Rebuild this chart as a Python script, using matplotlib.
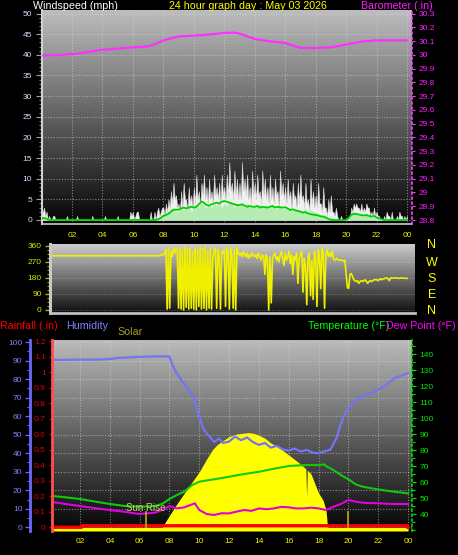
import numpy as np
import matplotlib
matplotlib.use('Agg')
import matplotlib.pyplot as plt
from matplotlib.ticker import MultipleLocator, FixedLocator, FuncFormatter, NullLocator

plt.rcParams['font.family'] = ['Liberation Sans', 'DejaVu Sans']

# ---------------- data ----------------
hour_ticks = [2, 4, 6, 8, 10, 12, 14, 16, 18, 20, 22, 24]
hour_labels = ['02', '04', '06', '08', '10', '12', '14', '16', '18', '20', '22', '00']

# wind gust (5-minute samples, mph)
gust_t = np.arange(289) / 12.0
gust = [1, 2, 3, 1, 2, 0, 1, 0, 0, 1, 1, 0,
        0, 0, 0, 0, 0, 0, 0, 0, 1, 0, 0, 0,
        0, 0, 0, 0, 1, 0, 0, 0, 0, 0, 0, 0,
        0, 0, 0, 0, 1, 0, 0, 0, 0, 0, 0, 0,
        0, 0, 1, 0, 0, 0, 0, 0, 0, 0, 0, 0,
        1, 0, 0, 0, 0, 0, 0, 0, 0, 0, 2, 1,
        2, 0, 1, 2, 2, 0, 0, 0, 0, 0, 0, 0,
        0, 0, 2, 0, 0, 2, 0, 2, 3, 1, 2, 3,
        3, 1, 4, 2, 5, 3, 7, 4, 9, 5, 6, 3,
        4, 2, 7, 3, 9, 5, 5, 2, 8, 4, 6, 3,
        8, 4, 11, 5, 7, 3, 9, 6, 11, 5, 8, 4,
        10, 5, 7, 4, 11, 6, 8, 5, 9, 4, 11, 6,
        8, 5, 11, 6, 14, 7, 9, 5, 12, 6, 10, 5,
        9, 5, 14, 7, 10, 6, 11, 5, 8, 4, 12, 6,
        9, 5, 11, 6, 7, 4, 12, 6, 10, 5, 8, 4,
        11, 5, 8, 4, 10, 6, 7, 3, 12, 6, 9, 5,
        8, 4, 10, 5, 7, 3, 9, 5, 6, 3, 9, 4,
        11, 5, 6, 3, 9, 4, 5, 2, 10, 4, 7, 3,
        6, 3, 9, 4, 4, 2, 8, 3, 3, 1, 5, 2,
        6, 2, 2, 1, 3, 1, 0, 0, 1, 0, 0, 0,
        0, 0, 0, 0, 3, 2, 4, 3, 4, 3, 3, 2,
        4, 2, 3, 2, 4, 3, 3, 1, 2, 1, 3, 1,
        2, 1, 1, 0, 0, 0, 1, 0, 2, 1, 1, 0,
        2, 0, 0, 0, 1, 0, 2, 1, 1, 0, 1, 0,
        1]

# average wind (10-minute samples, mph)
wind_t = np.arange(145) / 6.0
avg_speed = [0.5, 1, 0.5, 0, 0, 0,
             0, 0, 0, 0, 0, 0,
             0, 0, 0, 0, 0, 0,
             0, 0, 0, 0, 0, 0,
             0, 0, 0, 0, 0, 0,
             0, 0, 0, 0, 0, 0,
             0, 0, 0, 0, 0, 0,
             0, 0, 0, 0, 0.5, 1,
             1, 1.5, 2, 3, 2.5, 2,
             2, 3, 2.5, 3, 3.5, 2,
             3, 4, 3, 4.5, 3.5, 3,
             4, 3, 4, 3.5, 4.5, 3,
             4, 3.5, 4.5, 4, 3, 4,
             3.5, 4, 3, 4, 3.5, 3,
             3.5, 3, 4, 3, 3.5, 3,
             3, 3.5, 2.5, 3, 3.5, 2.5,
             3, 2.5, 3, 2, 3, 2.5,
             2.5, 2, 3, 1.5, 2.5, 2,
             2, 1.5, 1, 1.5, 1, 0.5,
             1, 0.5, 0, 0, 0, 0,
             0, 0.5, 1.5, 2, 1.5, 1.5,
             1.5, 1, 1.5, 1, 0.5, 1,
             1, 0.5, 0, 0.5, 0, 0,
             0.5, 0, 0, 0.5, 0, 0,
             0]
avg_line = [0.3, 0.5, 0.3, 0, 0, 0,
            0, 0, 0, 0, 0, 0,
            0, 0, 0, 0, 0, 0,
            0, 0, 0, 0, 0, 0,
            0, 0, 0, 0, 0, 0,
            0, 0, 0, 0, 0, 0,
            0, 0, 0, 0, 0, 0,
            0, 0, 0, 0, 0.2, 0.5,
            1, 1.2, 1.5, 2, 2.5, 2.5,
            2.5, 2.8, 3, 2.8, 3, 3.2,
            3, 3.2, 3.8, 4.5, 4.2, 3.6,
            3.5, 3.8, 4, 4.2, 4, 4.4,
            4.6, 4.4, 4.2, 4, 3.8, 3.6,
            3.6, 3.8, 3.5, 3.2, 3.4, 3.2,
            3.2, 3.4, 3, 3.2, 3.1, 3,
            3.2, 3.4, 3, 3.2, 3.1, 3,
            3.1, 2.8, 2.4, 2.6, 2.3, 2.2,
            2, 1.8, 1.9, 1.6, 1.4, 1.3,
            1.2, 1.1, 0.9, 0.8, 0.6, 0.3,
            0, 0, 0, 0, 0, 0,
            0, 0.5, 1.2, 1.5, 1.5, 1.3,
            1.2, 1.1, 1.2, 1, 0.8, 1,
            0.6, 0.4, 0.2, 0, 0, 0,
            0, 0, 0, 0, 0, 0,
            0]

# barometer (inHg)
baro_t = [0, 1, 2.2, 3, 4, 5, 6, 7, 7.5, 8, 9, 10, 11, 12, 12.7, 13, 14, 15, 16, 17, 18, 19, 20, 21, 22, 23, 24]
baro_v = [29.995, 29.998, 30.006, 30.02, 30.037, 30.045, 30.054, 30.061, 30.08, 30.105, 30.134, 30.139,
          30.147, 30.159, 30.161, 30.154, 30.115, 30.098, 30.086, 30.05, 30.05, 30.054, 30.074, 30.096,
          30.105, 30.105, 30.105]

# wind direction (5-minute samples, degrees)
dir_t = np.arange(289) / 12.0
wind_dir = ([330, 330, 325, 305, 305, 305, 305, 305, 305, 305, 305, 305] +
            [305, 305, 305, 305, 305, 305, 305, 305, 305, 305, 305, 305] +
            [305, 305, 305, 305, 305, 305, 305, 305, 305, 305, 305, 305] +
            [305, 305, 305, 305, 305, 305, 305, 305, 305, 305, 305, 305] +
            [305, 305, 305, 305, 305, 305, 305, 305, 305, 305, 305, 305] +
            [305, 305, 305, 305, 305, 305, 305, 305, 305, 305, 305, 305] +
            [305, 305, 305, 305, 305, 305, 305, 305, 305, 305, 305, 305] +
            [305, 305, 305, 305, 305, 305, 305, 305, 305, 305, 308, 312] +
            [310, 320, 340, 5, 350, 10, 330, 300, 345, 320, 350, 330] +
            [10, 350, 5, 340, 0, 355, 15, 345, 5, 350, 10, 330] +
            [5, 350, 0, 340, 20, 355, 5, 345, 10, 350, 0, 335] +
            [10, 345, 5, 300, 330, 350, 10, 340, 300, 5, 330, 320] +
            [340, 20, 350, 330, 5, 345, 310, 10, 340, 0, 350, 320] +
            [310, 320, 300, 330, 310, 300, 320, 290, 310, 300, 320, 305] +
            [300, 310, 290, 320, 300, 280, 310, 300, 200, 310, 290, 0] +
            [300, 40, 290, 310, 320, 280, 300, 270, 310, 330, 290, 250] +
            [320, 280, 300, 330, 260, 310, 200, 300, 280, 320, 150, 290] +
            [310, 330, 100, 290, 250, 30, 300, 320, 80, 280, 60, 330] +
            [290, 20, 340, 300, 120, 350, 320, 10, 310, 340, 300, 320] +
            [300, 330, 290, 280, 285, 290, 280, 280, 280, 280, 275, 280] +
            [200, 125, 122, 200, 205, 190, 170, 165, 160, 165, 150, 160] +
            [165, 160, 165, 170, 160, 150, 160, 165, 160, 165, 170, 170] +
            [170, 165, 170, 175, 170, 175, 175, 180, 180, 175, 165, 180] +
            [180, 180, 180, 180, 180, 178, 178, 180, 180, 180, 178, 178] +
            [178])

# humidity (%)
hum_t = [0, 1, 2, 3, 4, 4.5, 5, 6, 7, 7.5, 8.0, 8.25, 8.5, 8.8, 9.2, 9.6, 10.0, 10.25, 10.6, 11.0,
         11.3, 11.6, 12.0, 12.4, 12.8, 13.2, 13.6, 14.0, 14.4, 14.8, 15.2, 15.6, 16.0, 16.4, 16.8,
         17.2, 17.6, 18.0, 18.4, 18.8, 19.2, 19.4, 19.6, 19.9, 20.5, 21.3, 22.4, 23.1, 24.0]
hum_v = [90.4, 90.4, 90.5, 90.5, 90.8, 91.4, 91.6, 92.0, 92.2, 92.3, 92.2, 86.7, 83, 79.5, 75, 70.5,
         59.7, 53.4, 49.8, 46, 48, 45.5, 46.3, 49, 47, 48.5, 46, 44.5, 45.5, 43, 44, 42, 41.4, 42.5,
         40.9, 41.8, 40.3, 40, 41, 42, 48, 53.5, 58, 63.4, 68.8, 71.5, 76, 80.5, 83.2]

# temperature and dew point (F)
temp_t = [0, 1, 2, 3, 4, 5, 6, 7, 7.5, 8, 8.5, 9, 9.5, 10, 10.5, 11, 12, 13, 14, 15, 16, 17, 18,
          18.4, 18.5, 19, 19.5, 20, 20.5, 21, 22, 23, 23.5, 24]
temp_v = [51.4, 50.5, 49.4, 47.8, 46.3, 45, 44.6, 45, 46.3, 49.4, 51.9, 54, 58, 60.2, 61, 61.7,
          63.3, 65, 66.4, 68.3, 70, 70.6, 70.6, 71, 70, 67.5, 64.4, 61.7, 58.5, 57, 55.4, 54, 53.5,
          52.9]
dew_t = [0, 1, 2, 3, 4, 5, 6, 7, 7.5, 8, 8.5, 9, 9.7, 10, 10.5, 11, 11.5, 12, 12.5, 13, 13.5, 14,
         14.5, 15, 15.5, 16, 16.5, 17, 17.5, 18, 18.5, 19, 19.5, 20, 20.5, 21, 22, 23, 24]
dew_v = [47.7, 46.3, 45, 43.7, 42.5, 41.4, 40, 40.8, 42.5, 45, 43.5, 44.2, 46.7, 42.5, 40, 39.4,
         40.5, 40.4, 41.5, 42.5, 42, 43.5, 43, 43.5, 44.5, 44.2, 43.5, 43.5, 44, 43.5, 42.5, 44.6,
         46.3, 48.8, 47.7, 47, 46.7, 46.3, 46.3]

# solar (W/m2)
sol_t = [0, 7.5, 8.0, 8.4, 9.0, 9.5, 10.0, 10.5, 10.9, 11.2, 11.6, 12.0, 12.5, 13.0, 13.3, 13.7,
         14.0, 14.4, 14.8, 15.3, 16.0, 16.7, 17.15, 17.2, 17.25, 17.5, 18.0, 18.3, 18.5, 18.6,
         18.7, 24]
sol_v = [0, 0, 100, 180, 290, 380, 470, 580, 660, 700, 735, 768, 790, 798, 802, 795, 780, 755,
         714, 680, 613, 545, 495, 257, 485, 450, 291, 230, 147, 5, 0, 0]

# rainfall (in)
rain_t = [0, 2.1, 2.1, 23.98, 24]
rain_v = [0, 0, 0.01, 0.01, 0]

sunrise_h = 6.4
sunset_h = 20.0

# ---------------- layout helpers ----------------
W, H = 458, 555
fig = plt.figure(figsize=(W / 100, H / 100), dpi=100, facecolor='black')


def rect(x0, y0, x1, y1):
    return [x0 / W, 1 - y1 / H, (x1 - x0) / W, (y1 - y0) / H]


def gradient(ax, top, bottom):
    g = np.linspace(top, bottom, 256).reshape(-1, 1)
    ax.imshow(g, cmap='gray', vmin=0, vmax=1, aspect='auto', extent=[0, 1, 0, 1],
              transform=ax.transAxes, zorder=0, interpolation='bilinear')


def fmt1(v, pos):
    s = f"{v:.1f}"
    return s[:-2] if s.endswith('.0') else s


def hide_spines(ax, keep=()):
    for k, sp in ax.spines.items():
        sp.set_visible(k in keep)


GRID = dict(color='#d8d8d8', linestyle=(0, (1, 1.5)), linewidth=0.8, alpha=0.55)
TICKFS = 6

# ---------------- top panel: wind + barometer ----------------
ax_w = fig.add_axes(rect(42, 10, 412, 224))
gradient(ax_w, 0.74, 0.02)
ax_w.set_axisbelow(True)
ax_w.fill_between(gust_t, 0, gust, color='#f0f0f0', lw=0.4, edgecolor='#d8d8d8', zorder=1)
ax_w.fill_between(wind_t, 0, avg_speed, color='#b4ecb4', lw=0, zorder=2)
ax_w.plot(wind_t, avg_line, color='#00d000', lw=1.3, zorder=3)
ax_w.set_xlim(0.03, 24.33)
ax_w.set_ylim(-0.97, 50.85)
ax_w.xaxis.set_major_locator(FixedLocator(hour_ticks))
ax_w.set_xticklabels(hour_labels)
ax_w.tick_params(axis='x', length=0, pad=5.6, labelsize=TICKFS, labelcolor='#f0f000')
ax_w.yaxis.set_major_locator(MultipleLocator(5))
ax_w.yaxis.set_minor_locator(MultipleLocator(1))
ax_w.tick_params(axis='y', which='major', length=4, width=0.8, color='#a0a0a0', pad=3,
                 labelsize=TICKFS, labelcolor='#d4dcff')
ax_w.tick_params(axis='y', which='minor', length=2, width=0.6, color='#909090')
ax_w.grid(True, which='major', **GRID)
hide_spines(ax_w, ('left', 'bottom'))
ax_w.spines['left'].set_color('#d0d0d0')
ax_w.spines['left'].set_linewidth(1.5)
ax_w.spines['bottom'].set_color('#c8c8c8')
ax_w.spines['bottom'].set_linewidth(1.2)

ax_bar = ax_w.twinx()
ax_bar.plot(baro_t, baro_v, color='#ff30ff', lw=1.6)
ax_bar.set_ylim(28.771, 30.3255)
ax_bar.yaxis.set_major_locator(MultipleLocator(0.1))
ax_bar.yaxis.set_major_formatter(FuncFormatter(fmt1))
ax_bar.tick_params(axis='y', length=2.5, width=0.8, color='#ff40ff', pad=2.5,
                   labelsize=TICKFS, labelcolor='#ff20ff')
hide_spines(ax_bar, ('right',))
ax_bar.spines['right'].set_color('#ff40ff')
ax_bar.spines['right'].set_linestyle((0, (1, 2)))
ax_bar.spines['right'].set_linewidth(1.2)

# ---------------- wind direction panel ----------------
ax_d = fig.add_axes(rect(50, 244, 415, 313))
gradient(ax_d, 0.80, 0.06)
ax_d.set_axisbelow(True)
ax_d.plot(dir_t, wind_dir, color='#f0f000', lw=1.2, zorder=2)
ax_d.set_xlim(0.56, 24.52)
ax_d.set_ylim(-17, 371)
ax_d.xaxis.set_major_locator(NullLocator())
ax_d.yaxis.set_major_locator(FixedLocator([0, 90, 180, 270, 360]))
ax_d.yaxis.set_minor_locator(MultipleLocator(22.5))
ax_d.tick_params(axis='y', which='major', length=3.5, width=1.0, color='#b0b000', pad=2.5,
                 labelsize=TICKFS, labelcolor='#d8e800')
ax_d.tick_params(axis='y', which='minor', length=2, width=0.8, color='#a0a000')
ax_d.grid(True, axis='y', which='major', color='#e0e0e0', linestyle=(0, (1, 1.5)), linewidth=0.7,
          alpha=0.35)
hide_spines(ax_d, ('left', 'bottom'))
ax_d.spines['left'].set_color('#c8c8c8')
ax_d.spines['left'].set_linewidth(2.2)
ax_d.spines['bottom'].set_color('#c0c0c0')
ax_d.spines['bottom'].set_linewidth(2.0)

for lab, py in zip(['N', 'W', 'S', 'E', 'N'], [245, 263, 279, 295, 311]):
    fig.text(432 / W, 1 - py / H, lab, color='#ffff00', fontsize=9, ha='center', va='center')

# ---------------- bottom panel ----------------
HUM_LIM = (-2.0, 101.1)
SOL_LIM = (-31.4, 1587)
TEMP_LIM = (29.4, 148.75)
RAIN_LIM = (-0.0239, 1.208)

ax_h = fig.add_axes(rect(52, 340, 412, 531))
gradient(ax_h, 0.73, 0.02)
ax_h.set_axisbelow(True)
ax_h.set_xlim(0.12, 24.27)
ax_h.set_ylim(*HUM_LIM)
ax_h.xaxis.set_major_locator(FixedLocator(hour_ticks))
ax_h.set_xticklabels(hour_labels)
ax_h.tick_params(axis='x', length=0, pad=5.2, labelsize=TICKFS, labelcolor='#f0f000')
ax_h.yaxis.set_major_locator(MultipleLocator(10))
ax_h.yaxis.set_minor_locator(MultipleLocator(5))
ax_h.set_yticks(list(range(0, 101, 10)))
ax_h.tick_params(axis='y', which='major', length=3.5, width=0.9, color='#6a6aff', pad=2,
                 labelsize=TICKFS, labelcolor='#8080ff')
ax_h.tick_params(axis='y', which='minor', length=2, width=0.8, color='#6a6aff')
ax_h.grid(True, which='major', **GRID)
hide_spines(ax_h, ('left',))
ax_h.spines['left'].set_position(('outward', 15.8))
ax_h.spines['left'].set_color('#6a6aff')
ax_h.spines['left'].set_linewidth(2.0)

ax_s = ax_h.twinx()
ax_s.fill_between(sol_t, SOL_LIM[0], sol_v, color='#ffff00', lw=0)
ax_s.set_ylim(*SOL_LIM)
ax_s.set_yticks([])
hide_spines(ax_s)

ax_hl = ax_h.twinx()
ax_hl.plot(hum_t, hum_v, color='#7474f4', lw=1.6)
ax_hl.set_ylim(*HUM_LIM)
ax_hl.set_yticks([])
hide_spines(ax_hl)

ax_t = ax_h.twinx()
ax_t.plot(temp_t, temp_v, color='#10c810', lw=1.5)
ax_t.plot(dew_t, dew_v, color='#e000e0', lw=1.5)
ax_t.set_ylim(*TEMP_LIM)
ax_t.set_yticks(list(range(40, 141, 10)))
ax_t.yaxis.set_minor_locator(MultipleLocator(5))
ax_t.tick_params(axis='y', which='major', length=3, width=0.9, color='#00e000', pad=2.5,
                 labelsize=TICKFS, labelcolor='#00e800')
ax_t.tick_params(axis='y', which='minor', length=1.8, width=0.8, color='#00e000')
hide_spines(ax_t, ('right',))
ax_t.spines['right'].set_color('#00e000')
ax_t.spines['right'].set_linestyle((0, (1, 2)))
ax_t.spines['right'].set_linewidth(1.2)

ax_r = ax_h.twinx()
ax_r.plot(rain_t, rain_v, color='#ff0000', lw=2.4)
ax_r.plot([sunrise_h, sunrise_h], [0, 0.1], color='#b8a820', lw=1.2)
ax_r.plot([sunset_h, sunset_h], [0, 0.1], color='#b8a820', lw=1.2)
ax_r.text(sunrise_h, 0.125, 'Sun Rise', color='#d8d070', fontsize=7, ha='center', va='center')
ax_r.set_ylim(*RAIN_LIM)
ax_r.yaxis.tick_left()
ax_r.yaxis.set_major_locator(MultipleLocator(0.1))
ax_r.yaxis.set_minor_locator(MultipleLocator(0.05))
ax_r.yaxis.set_major_formatter(FuncFormatter(fmt1))
ax_r.tick_params(axis='y', which='major', length=2.5, width=0.9, color='#e00000', pad=2,
                 labelsize=TICKFS, labelcolor='#e00000')
ax_r.tick_params(axis='y', which='minor', length=1.5, width=0.8, color='#e00000')
hide_spines(ax_r, ('left',))
ax_r.spines['left'].set_color('#ff5050')
ax_r.spines['left'].set_linestyle((0, (1.5, 1)))
ax_r.spines['left'].set_linewidth(2.0)

# ---------------- titles ----------------
TFS = 7.7
fig.text(33 / W, 1 - 6 / H, 'Windspeed (mph)', color='white', fontsize=TFS, ha='left', va='center')
fig.text(247.5 / W, 1 - 6 / H, '24 hour graph day : May 03 2026', color='#ffff00', fontsize=TFS,
         ha='center', va='center')
fig.text(433 / W, 1 - 6 / H, 'Barometer (.in)', color='#ff20ff', fontsize=TFS, ha='right', va='center')
fig.text(0 / W, 1 - 326 / H, 'Rainfall (.in)', color='#ff0000', fontsize=TFS, ha='left', va='center')
fig.text(66 / W, 1 - 326 / H, 'Humidity', color='#8080ff', fontsize=TFS, ha='left', va='center')
fig.text(117 / W, 1 - 332 / H, 'Solar', color='#a0a020', fontsize=TFS, ha='left', va='center')
fig.text(308 / W, 1 - 326 / H, 'Temperature (°F)', color='#00ff00', fontsize=TFS, ha='left', va='center')
fig.text(456 / W, 1 - 326 / H, 'Dew Point (°F)', color='#ff00ff', fontsize=TFS, ha='right', va='center')

fig.savefig('out.png', dpi=100, facecolor='black')
